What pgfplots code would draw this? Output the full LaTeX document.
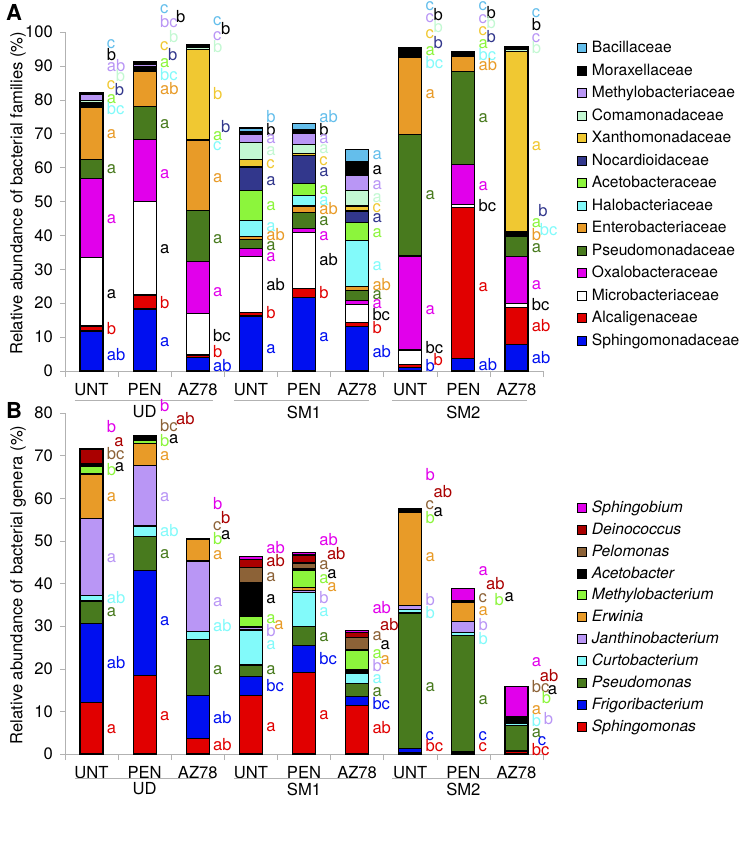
\documentclass[border=0pt]{standalone}
\usepackage{fontspec}
\setmainfont{TeX Gyre Heros}
\usepackage{pgfplots}
\usepackage{pgfplotstable}
\pgfplotsset{compat=1.18}

\definecolor{cSky}{RGB}{100,190,235}
\definecolor{cLav}{RGB}{185,150,245}
\definecolor{cMint}{RGB}{195,248,210}
\definecolor{cYel}{RGB}{240,200,50}
\definecolor{cNavy}{RGB}{50,55,140}
\definecolor{cLime}{RGB}{140,245,60}
\definecolor{cCyan}{RGB}{130,250,250}
\definecolor{cOra}{RGB}{232,155,40}
\definecolor{cGrn}{RGB}{72,122,30}
\definecolor{cMag}{RGB}{225,0,235}
\definecolor{cRed}{RGB}{225,0,0}
\definecolor{cBlue}{RGB}{0,15,240}
\definecolor{cDred}{RGB}{170,0,0}
\definecolor{cBrown}{RGB}{140,98,55}

\newcommand{\fs}{\fontsize{8.3}{10}\selectfont}
\newcommand{\fl}{\fontsize{7.8}{9.5}\selectfont}
% significance letter: \lt[extra shift]{x}{y}{colour}{text}
\newcommand{\lt}[5][0]{\node[anchor=west,inner sep=0pt,text height=4.5pt,text depth=0pt,text=#4,font=\fs,xshift=7.5pt+#1pt,yshift=-0.4pt] at (axis cs:#2,#3) {#5};}

% families (panel A), stacked bottom to top
\pgfplotstableread{
x sph alc mic oxa pse ent hal ace noc xan com met mor bac
0 11.8 1.5 20.1 23.4 5.6 15.5 0.4 0.3 0.3 0.2 0.8 1.7 0.3 0.2
1 18.3 4.1 27.5 18.4 9.8 10.3 0.3 0.3 0.3 0.3 0.3 0.6 0.6 0.2
2 3.9 0.8 12.3 15.2 15.2 20.5 0.1 0.1 0.1 26.7 0.5 0.3 0.3 0.2
3 16.2 1.1 16.4 2.4 2.7 0.8 4.7 9.0 6.9 2.2 4.9 2.4 0.8 1.2
4 21.6 2.7 16.5 1.3 4.6 2.0 3.1 3.4 8.3 0.6 2.8 3.1 1.2 1.8
5 13.1 1.1 5.5 1.2 2.8 1.2 13.5 5.3 3.5 1.5 4.6 4.3 4.3 3.5
6 1.0 0.8 4.4 27.7 35.8 22.7 0.1 0.1 0.1 0.1 0.1 0.1 2.2 0.1
7 3.7 44.5 1.0 11.6 27.6 4.4 0.1 0.1 0.1 0.1 0.1 0.1 0.6 0.1
8 7.9 10.9 1.1 13.8 6.1 0.3 0.3 0.3 0.3 53.3 0.6 0.3 0.3 0.3
}\famdata

% genera (panel B), stacked bottom to top
\pgfplotstableread{
x sphm fri pse cur jan erw met ace pel dei sphb
0 12.0 18.6 5.3 1.2 18.2 10.4 1.8 0.3 0.4 3.3 0.1
1 18.4 24.6 8.1 2.4 14.1 5.2 0.7 1.0 0.1 0.1 0.1
2 3.7 10.0 13.2 1.8 16.6 5.1 0.05 0.05 0.05 0.05 0.05
3 13.8 4.4 2.7 8.2 0.5 0.3 2.5 7.8 3.5 2.0 0.6
4 19.2 6.3 4.5 7.8 0.6 0.6 4.0 0.4 1.4 1.9 0.5
5 11.4 2.1 3.0 2.5 0.4 0.3 4.5 0.3 2.8 1.2 0.5
6 0.4 0.9 31.8 0.8 1.0 21.9 0.2 0.2 0.2 0.1 0.1
7 0.3 0.3 27.2 0.7 2.5 4.5 0.1 0.1 0.1 0.1 3.0
8 0.5 0.3 5.8 0.5 0.2 0.1 0.1 1.1 0.1 0.1 7.0
}\gendata

\pgfplotsset{
  panel/.style={
    scale only axis, width=239pt,
    ybar stacked, bar width=11.5pt,
    xmin=-0.5, xmax=8.5, ymin=0,
    xtick={0,...,8},
    xticklabels={UNT,PEN,AZ78,UNT,PEN,AZ78,UNT,PEN,AZ78},
    minor xtick={-0.5,0.5,...,8.5},
    major x tick style={draw=none},
    tick align=outside, major tick length=2.5pt, minor tick length=3pt,
    axis x line*=bottom, axis y line*=left,
    axis line style={-,gray!60}, tick style={gray!60},
    ticklabel style={font=\fs},
    /pgf/number format/assume math mode=true,
    label style={font=\fs},
    clip=false,
    reverse legend,
    legend cell align=left,
    legend image code/.code={\draw[##1,draw=black,line width=0.5pt] (0pt,-2.25pt) rectangle (4.5pt,2.25pt);},
    legend style={draw=none, fill=none, font=\fl, anchor=north west,
      inner sep=0pt, /tikz/every odd column/.append style={column sep=2.3pt},
      nodes={inner sep=0pt, text height=6.5pt, text depth=2pt}},
  },
  seg/.style={fill=#1, draw=black, line width=0.6pt},
}

\begin{document}
\begin{tikzpicture}
\path[use as bounding box] (0,0) rectangle (371pt,-430pt);
\node[font=\bfseries\fontsize{11}{11}\selectfont] at (7pt,-6pt) {A};
\node[font=\bfseries\fontsize{11}{11}\selectfont] at (7pt,-205pt) {B};

\begin{axis}[panel, at={(32.5pt,-185.5pt)}, anchor=south west, height=169.5pt,
  ymax=100, ytick={0,10,...,100},
  ylabel={Relative abundance of bacterial families (\%)},
  ylabel style={at={(axis description cs:-0.098,0.524)}, anchor=center},
  legend style={at={(axis description cs:1.071,0.979)}, row sep=2.75pt},
]
\addplot[seg=cBlue] table[x=x,y=sph]{\famdata};
\addlegendentry{Sphingomonadaceae}
\addplot[seg=cRed] table[x=x,y=alc]{\famdata};
\addlegendentry{Alcaligenaceae}
\addplot[seg=white] table[x=x,y=mic]{\famdata};
\addlegendentry{Microbacteriaceae}
\addplot[seg=cMag] table[x=x,y=oxa]{\famdata};
\addlegendentry{Oxalobacteraceae}
\addplot[seg=cGrn] table[x=x,y=pse]{\famdata};
\addlegendentry{Pseudomonadaceae}
\addplot[seg=cOra] table[x=x,y=ent]{\famdata};
\addlegendentry{Enterobacteriaceae}
\addplot[seg=cCyan] table[x=x,y=hal]{\famdata};
\addlegendentry{Halobacteriaceae}
\addplot[seg=cLime] table[x=x,y=ace]{\famdata};
\addlegendentry{Acetobacteraceae}
\addplot[seg=cNavy] table[x=x,y=noc]{\famdata};
\addlegendentry{Nocardioidaceae}
\addplot[seg=cYel] table[x=x,y=xan]{\famdata};
\addlegendentry{Xanthomonadaceae}
\addplot[seg=cMint] table[x=x,y=com]{\famdata};
\addlegendentry{Comamonadaceae}
\addplot[seg=cLav] table[x=x,y=met]{\famdata};
\addlegendentry{Methylobacteriaceae}
\addplot[seg=black] table[x=x,y=mor]{\famdata};
\addlegendentry{Moraxellaceae}
\addplot[seg=cSky] table[x=x,y=bac]{\famdata};
\addlegendentry{Bacillaceae}

% group brackets
\draw[gray!60] ([yshift=-14.5pt]axis cs:-0.32,0) -- ([yshift=-14.5pt]axis cs:2.28,0);
\draw[gray!60] ([yshift=-14.5pt]axis cs:2.68,0) -- ([yshift=-14.5pt]axis cs:5.22,0);
\draw[gray!60] ([yshift=-14.5pt]axis cs:5.66,0) -- ([yshift=-14.5pt]axis cs:8.2,0);
\node[font=\fs] at ([yshift=-20.5pt]axis cs:1,0) {UD};
\node[font=\fs] at ([yshift=-20.5pt]axis cs:4,0) {SM1};
\node[font=\fs] at ([yshift=-20.5pt]axis cs:7,0) {SM2};

% letters, UNT UD
\lt{0}{4.7}{cBlue}{ab}\lt{0}{12.3}{cRed}{b}\lt{0}{22.9}{black}{a}\lt{0}{45}{cMag}{a}
\lt{0}{59.7}{cGrn}{a}\lt{0}{70}{cOra}{a}\lt{0}{77.1}{cCyan}{bc}\lt{0}{80.4}{cLime}{a}
\lt[4]{0}{82.8}{cNavy}{b}\lt{0}{84.5}{cYel}{c}\lt[4.5]{0}{86.9}{cMint}{b}
\lt{0}{89.9}{cLav}{ab}\lt{0}{93.3}{black}{b}\lt{0}{96.6}{cSky}{c}
% PEN UD
\lt{1}{8.9}{cBlue}{a}\lt{1}{19.9}{cRed}{b}\lt{1}{36.1}{black}{a}\lt{1}{58.3}{cMag}{a}
\lt{1}{73}{cGrn}{a}\lt{1}{83}{cOra}{ab}\lt{1}{87.2}{cCyan}{bc}\lt{1}{91}{cLime}{a}
\lt[4]{1}{93.3}{cNavy}{b}\lt{1}{96.1}{cYel}{c}\lt[4.5]{1}{98.5}{cMint}{b}
\lt{1}{102.9}{cLav}{bc}\lt[8]{1}{104.4}{black}{b}\lt{1}{106.9}{cSky}{c}
% AZ78 UD
\lt{2}{1.3}{cBlue}{ab}\lt{2}{5.4}{cRed}{b}\lt{2}{10.3}{black}{bc}\lt{2}{23.4}{cMag}{a}
\lt{2}{39.1}{cGrn}{a}\lt{2}{57.3}{cOra}{a}\lt{2}{66.6}{cCyan}{c}\lt{2}{69.5}{cLime}{a}
\lt[4]{2}{72}{cNavy}{b}\lt{2}{81.6}{cYel}{b}\lt{2}{95.6}{cMint}{b}
\lt{2}{99.2}{cLav}{c}\lt[4]{2}{100.7}{black}{b}\lt{2}{103.4}{cSky}{c}
% UNT SM1
\lt{3}{6.7}{cBlue}{a}\lt{3}{17}{cRed}{b}\lt{3}{25.3}{black}{ab}\lt{3}{33.9}{cMag}{a}
\lt{3}{37.1}{cGrn}{a}\lt{3}{40.1}{cOra}{ab}\lt{3}{42.7}{cCyan}{a}\lt{3}{48.9}{cLime}{a}
\lt{3}{56.3}{cNavy}{a}\lt{3}{61.2}{cYel}{c}\lt{3}{65.1}{cMint}{a}
\lt{3}{68.6}{cLav}{a}\lt{3}{71}{black}{b}\lt{3}{75}{cSky}{b}
% PEN SM1
\lt{4}{10.3}{cBlue}{a}\lt{4}{22.9}{cRed}{b}\lt{4}{32.7}{black}{ab}\lt{4}{40.1}{cMag}{a}
\lt{4}{44.5}{cGrn}{a}\lt{4}{47.6}{cOra}{ab}\lt{4}{50.4}{cCyan}{a}\lt{4}{53.5}{cLime}{a}
\lt{4}{59}{cNavy}{a}\lt{4}{62.2}{cYel}{c}\lt{4}{65.6}{cMint}{a}
\lt{4}{68.6}{cLav}{a}\lt{4}{71}{black}{b}\lt{4}{75}{cSky}{ab}
% AZ78 SM1
\lt{5}{5.4}{cBlue}{ab}\lt{5}{12.6}{cRed}{b}\lt{5}{16.5}{black}{bc}\lt{5}{19.9}{cMag}{a}
\lt{5}{22.7}{cGrn}{a}\lt{5}{25.3}{cOra}{ab}\lt{5}{31.2}{cCyan}{a}\lt{5}{40.8}{cLime}{a}
\lt{5}{45.3}{cNavy}{a}\lt{5}{48.4}{cYel}{c}\lt{5}{51.4}{cMint}{a}
\lt{5}{55.1}{cLav}{a}\lt{5}{59.4}{black}{a}\lt{5}{63.9}{cSky}{a}
% UNT SM2
\lt{6}{1.3}{cBlue}{b}\lt[4]{6}{3.2}{cRed}{b}\lt{6}{6.7}{black}{bc}\lt{6}{18.2}{cMag}{a}
\lt{6}{52.2}{cGrn}{a}\lt{6}{81.8}{cOra}{a}\lt{6}{90.9}{cCyan}{bc}\lt{6}{94.6}{cLime}{a}
\lt[4]{6}{96.8}{cNavy}{b}\lt{6}{99.7}{cYel}{c}\lt[4]{6}{101.5}{cMint}{b}
\lt{6}{104.4}{cLav}{c}\lt[4]{6}{104.9}{black}{b}\lt{6}{107.9}{cSky}{c}
% PEN SM2
\lt{7}{1.8}{cBlue}{ab}\lt{7}{25}{cRed}{a}\lt{7}{48.6}{black}{bc}\lt{7}{54.8}{cMag}{a}
\lt{7}{74.8}{cGrn}{a}\lt{7}{90.2}{cOra}{ab}\lt{7}{93.1}{cCyan}{bc}\lt{7}{96.6}{cLime}{a}
\lt[4]{7}{98.5}{cNavy}{b}\lt{7}{100.5}{cYel}{c}\lt[4]{7}{102.5}{cMint}{b}
\lt{7}{104.2}{cLav}{c}\lt[4]{7}{105.6}{black}{b}\lt{7}{107.9}{cSky}{c}
% AZ78 SM2
\lt{8}{3.7}{cBlue}{ab}\lt{8}{13.3}{cRed}{ab}\lt{8}{19.4}{black}{bc}\lt{8}{25.6}{cMag}{a}
\lt{8}{36.4}{cGrn}{a}\lt{8}{40.1}{cOra}{b}\lt[4]{8}{41.6}{cCyan}{bc}\lt{8}{44}{cLime}{a}
\lt[3.3]{8}{47.2}{cNavy}{b}\lt{8}{66.6}{cYel}{a}\lt{8}{95.1}{cMint}{b}
\lt{8}{98.5}{cLav}{c}\lt{8}{102}{black}{b}\lt{8}{105.9}{cSky}{c}
\end{axis}

\begin{axis}[panel, at={(32.5pt,-377pt)}, anchor=south west, height=170.5pt,
  ymax=80, ytick={0,10,...,80},
  ylabel={Relative abundance of bacterial genera (\%)},
  ylabel style={at={(axis description cs:-0.098,0.496)}, anchor=center},
  legend style={at={(axis description cs:1.071,0.748)}, row sep=2.45pt},
]
\addplot[seg=cRed] table[x=x,y=sphm]{\gendata};
\addlegendentry{\textit{Sphingomonas}}
\addplot[seg=cBlue] table[x=x,y=fri]{\gendata};
\addlegendentry{\textit{Frigoribacterium}}
\addplot[seg=cGrn] table[x=x,y=pse]{\gendata};
\addlegendentry{\textit{Pseudomonas}}
\addplot[seg=cCyan] table[x=x,y=cur]{\gendata};
\addlegendentry{\textit{Curtobacterium}}
\addplot[seg=cLav] table[x=x,y=jan]{\gendata};
\addlegendentry{\textit{Janthinobacterium}}
\addplot[seg=cOra] table[x=x,y=erw]{\gendata};
\addlegendentry{\textit{Erwinia}}
\addplot[seg=cLime] table[x=x,y=met]{\gendata};
\addlegendentry{\textit{Methylobacterium}}
\addplot[seg=black] table[x=x,y=ace]{\gendata};
\addlegendentry{\textit{Acetobacter}}
\addplot[seg=cBrown] table[x=x,y=pel]{\gendata};
\addlegendentry{\textit{Pelomonas}}
\addplot[seg=cDred] table[x=x,y=dei]{\gendata};
\addlegendentry{\textit{Deinococcus}}
\addplot[seg=cMag] table[x=x,y=sphb]{\gendata};
\addlegendentry{\textit{Sphingobium}}

\draw[gray!60] ([yshift=-12pt]axis cs:-0.32,0) -- ([yshift=-12pt]axis cs:2.28,0);
\draw[gray!60] ([yshift=-12pt]axis cs:2.68,0) -- ([yshift=-12pt]axis cs:5.22,0);
\draw[gray!60] ([yshift=-12pt]axis cs:5.66,0) -- ([yshift=-12pt]axis cs:8.2,0);
\node[font=\fs] at ([yshift=-17.5pt]axis cs:1,0) {UD};
\node[font=\fs] at ([yshift=-17.5pt]axis cs:4,0) {SM1};
\node[font=\fs] at ([yshift=-17.5pt]axis cs:7,0) {SM2};

% UNT UD
\lt{0}{6}{cRed}{a}\lt{0}{21.4}{cBlue}{ab}\lt{0}{33.5}{cGrn}{a}\lt{0}{36.6}{cCyan}{ab}
\lt{0}{46.2}{cLav}{a}\lt{0}{60.5}{cOra}{a}\lt{0}{66.6}{cLime}{b}\lt[4]{0}{67.6}{black}{a}
\lt{0}{70.3}{cBrown}{bc}\lt[3.7]{0}{73.5}{cDred}{a}\lt{0}{76.7}{cMag}{b}
% PEN UD
\lt{1}{9.2}{cRed}{a}\lt{1}{31.3}{cBlue}{a}\lt{1}{47}{cGrn}{a}\lt{1}{52.3}{cCyan}{ab}
\lt{1}{60.5}{cLav}{a}\lt{1}{70.1}{cOra}{a}\lt{1}{73.5}{cLime}{b}\lt[4.5]{1}{74.1}{black}{a}
\lt{1}{77}{cBrown}{bc}\lt[8]{1}{78.5}{cDred}{ab}\lt{1}{81.7}{cMag}{b}
% AZ78 UD
\lt{2}{2}{cRed}{ab}\lt{2}{8.5}{cBlue}{ab}\lt{2}{20}{cGrn}{a}\lt{2}{30}{cCyan}{ab}
\lt{2}{35.9}{cLav}{a}\lt{2}{46.8}{cOra}{a}\lt{2}{50.4}{cLime}{b}\lt[4]{2}{51.5}{black}{a}
\lt{2}{53.6}{cBrown}{c}\lt[4]{2}{55.4}{cDred}{b}\lt{2}{58.7}{cMag}{b}
% UNT SM1
\lt{3}{6.5}{cRed}{a}\lt{3}{15.9}{cBlue}{bc}\lt{3}{20}{cGrn}{a}\lt{3}{25.7}{cCyan}{a}
\lt{3}{28.8}{cLav}{b}\lt[4]{3}{30.5}{cOra}{a}\lt{3}{31.9}{cLime}{a}\lt{3}{36.5}{black}{a}
\lt{3}{41.7}{cBrown}{a}\lt{3}{45.3}{cDred}{ab}\lt{3}{48.4}{cMag}{ab}
% PEN SM1
\lt{4}{9.4}{cRed}{a}\lt{4}{22.2}{cBlue}{bc}\lt{4}{27.6}{cGrn}{a}\lt{4}{33.5}{cCyan}{a}
\lt{4}{36.6}{cLav}{b}\lt[4]{4}{39.4}{cOra}{a}\lt{4}{41.3}{cLime}{a}\lt[4]{4}{42.5}{black}{a}
\lt{4}{44.6}{cBrown}{a}\lt[3.8]{4}{46.8}{cDred}{ab}\lt{4}{50.1}{cMag}{ab}
% AZ78 SM1
\lt{5}{6}{cRed}{ab}\lt{5}{11.7}{cBlue}{bc}\lt{5}{14.7}{cGrn}{a}\lt{5}{17.9}{cCyan}{a}
\lt{5}{20.6}{cLav}{b}\lt[4]{5}{22.3}{cOra}{a}\lt{5}{23.7}{cLime}{a}\lt[4]{5}{25.7}{black}{a}
\lt{5}{27.9}{cBrown}{a}\lt[3.8]{5}{30.2}{cDred}{ab}\lt{5}{34.3}{cMag}{ab}
% UNT SM2
\lt{6}{1.9}{cRed}{bc}\lt{6}{4.5}{cBlue}{c}\lt{6}{15.9}{cGrn}{a}\lt{6}{33.1}{cCyan}{b}
\lt{6}{36}{cLav}{b}\lt{6}{46.4}{cOra}{a}\lt{6}{55.4}{cLime}{b}\lt[4]{6}{57}{black}{a}
\lt{6}{58.7}{cBrown}{c}\lt[4]{6}{61.5}{cDred}{ab}\lt{6}{65.4}{cMag}{b}
% PEN SM2
\lt{7}{1.9}{cRed}{c}\lt{7}{4.5}{cBlue}{c}\lt{7}{12.8}{cGrn}{a}\lt{7}{26.9}{cCyan}{b}
\lt{7}{30.2}{cLav}{b}\lt{7}{33.7}{cOra}{a}\lt{7}{36.8}{cBrown}{c}\lt[8]{7}{36}{cLime}{b}
\lt[13]{7}{37}{black}{a}\lt[3.7]{7}{39.8}{cDred}{ab}\lt{7}{43.1}{cMag}{a}
% AZ78 SM2
\lt{8}{1.0}{cRed}{bc}\lt[3]{8}{3.2}{cBlue}{c}\lt{8}{5}{cGrn}{a}\lt{8}{7.8}{cCyan}{b}
\lt[6]{8}{8.1}{cLav}{b}\lt{8}{10.6}{cOra}{a}\lt[5]{8}{13.2}{cLime}{b}\lt[8]{8}{15.3}{black}{a}
\lt{8}{15.7}{cBrown}{bc}\lt[4]{8}{18.2}{cDred}{ab}\lt{8}{21.8}{cMag}{a}
\end{axis}
\end{tikzpicture}
\end{document}
